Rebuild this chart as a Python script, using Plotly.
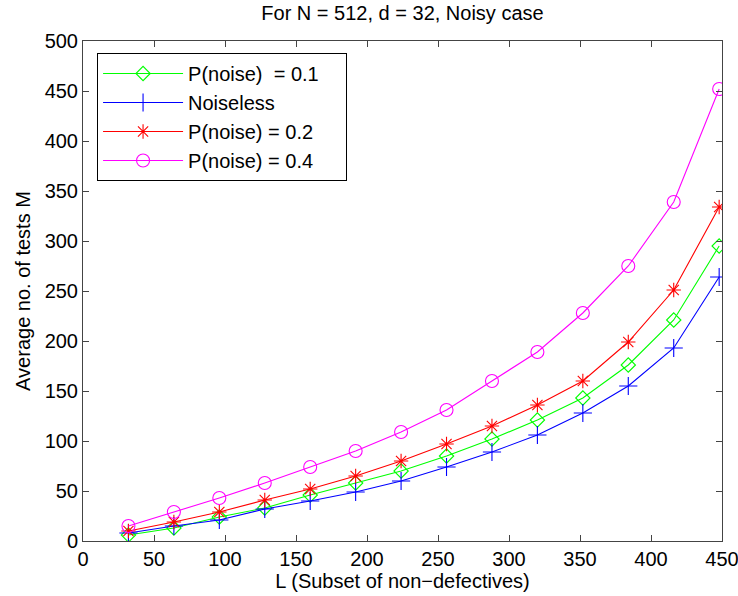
import plotly.graph_objects as go

L = [32, 64, 96, 128, 160, 192, 224, 256, 288, 320, 352, 384, 416, 448]
p01 = [6, 13, 24, 33, 46, 58, 70, 85, 102, 121, 143, 176, 221, 295]
noiseless = [8, 15, 21, 32, 40, 49, 60, 74, 89, 106, 128, 155, 193, 264]
p02 = [10, 19, 29, 41, 52, 65, 80, 97, 115, 136, 160, 199, 251, 334]
p04 = [15, 29, 43, 58, 74, 90, 109, 131, 160, 189, 228, 275, 339, 452]

names = ["P(noise)\u00a0\u00a0= 0.1\u00a0\u00a0\u00a0\u00a0", "Noiseless", "P(noise) = 0.2", "P(noise) = 0.4"]
series = [p01, noiseless, p02, p04]
colors = ["#00ff00", "#0000ff", "#ff0000", "#ff00ff"]
symbols = ["diamond-open", "cross-thin-open", "asterisk-open", "circle-open"]
sizes = [11, 13, 12, 13]

FONT = "Liberation Sans, Arial, Helvetica"

fig = go.Figure()
for i, (n, s, c, sym, sz) in enumerate(zip(names, series, colors, symbols, sizes)):
    fig.add_trace(go.Scatter(
        x=L, y=s, name=n, mode="lines+markers", legendgroup=f"g{i}",
        line=dict(color=c, width=1.1),
        marker=dict(symbol=sym, size=sz, color=c, line=dict(color=c, width=1.1)),
    ))

axis_common = dict(
    showline=True, linecolor="#444444", linewidth=1, mirror="ticks",
    ticks="inside", ticklen=6, tickcolor="#444444", showgrid=False, zeroline=False,
    automargin=False, ticklabeloverflow="allow",
    tickfont=dict(family=FONT, size=20, color="black"),
)
fig.update_xaxes(range=[0, 450], dtick=50, tick0=0,
                 title=dict(text="L (Subset of non\u2212defectives)", standoff=2,
                            font=dict(family=FONT, size=20, color="black")),
                 **axis_common)
fig.update_yaxes(range=[0, 500], dtick=50, tick0=0,
                 title=dict(text="Average no. of tests M", standoff=8,
                            font=dict(family=FONT, size=20, color="black")),
                 **axis_common)

fig.update_layout(
    width=738, height=596,
    margin=dict(l=83, r=16, t=41, b=55),
    paper_bgcolor="white", plot_bgcolor="white",
    title=dict(text="For N = 512, d = 32, Noisy case", x=0.5, xref="paper", xanchor="center",
               y=0.978, yanchor="middle",
               font=dict(family=FONT, size=20, color="black")),
    legend=dict(x=0.022, y=0.976, xanchor="left", yanchor="top",
                bgcolor="white", bordercolor="black", borderwidth=1,
                font=dict(family=FONT, size=20, color="black"),
                itemwidth=80, tracegroupgap=0),
    showlegend=True,
)

fig.write_html("out.html")
